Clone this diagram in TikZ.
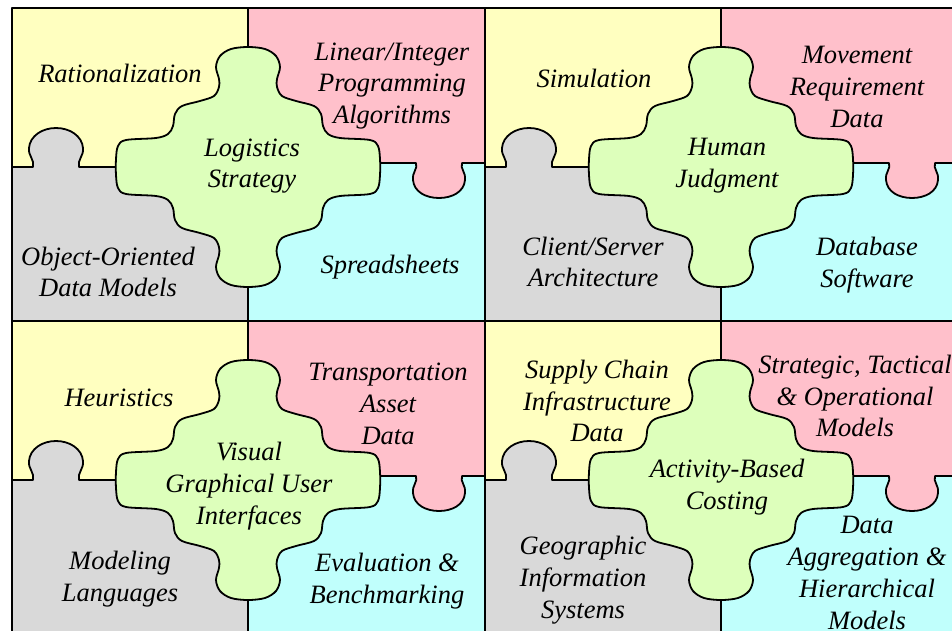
\documentclass[tikz,border=0pt]{standalone}
\usepackage{fontspec}
\setmainfont{Liberation Serif}
\definecolor{pzyellow}{HTML}{FFFFC0}
\definecolor{pzpink}{HTML}{FFC0CB}
\definecolor{pzcyan}{HTML}{C0FFFC}
\definecolor{pzgrey}{HTML}{D9D9D9}
\definecolor{pzgreen}{HTML}{DDFFBB}

\begin{document}
\begin{tikzpicture}[x=1pt,y=-1pt,line join=round,
    edge/.style={line width=1.8pt},
    hub/.style={edge,fill=pzgreen},
    lbl/.style={font=\fontsize{26.5}{31.8}\selectfont\itshape,align=center,inner sep=0pt}]
  \useasboundingbox[fill=white] (0,0) rectangle (952,631);
  \foreach \bx/\by in {12/8,485/8,12/321,485/321}{
    \begin{scope}[shift={(\bx,\by)}]
      \fill[pzyellow] (0,0) rectangle (236,159);
      \fill[pzpink] (236,0) rectangle (473,155);
      \fill[pzgrey] (0,159) rectangle (236,313);
      \fill[pzcyan] (236,155) rectangle (473,313);
      % tab of the grey piece
      \filldraw[edge,fill=pzgrey] (0,159) -- (21,159) .. controls (23,152) and (16,148) .. (17,140)
        .. controls (18,128) and (30,120) .. (44,120) .. controls (58,120) and (70,128) .. (71,140)
        .. controls (72,148) and (65,152) .. (67,159) -- (236,159);
      % tab of the pink piece
      \filldraw[edge,fill=pzpink] (236,155) -- (404,155) .. controls (406,161) and (400,164) .. (401,172)
        .. controls (402,184) and (414,190) .. (427,190) .. controls (440,190) and (452,184) .. (453,172)
        .. controls (454,164) and (448,161) .. (450,155) -- (473,155);
      \draw[line width=1.4pt] (236,0) -- (236,313);
      \draw[edge] (0,0) rectangle (473,313);
      \filldraw[hub,shift={(236,159)}] plot[smooth cycle,tension=0.55] coordinates {
        (0,-120) (17,-118) (28,-111) (32,-100) (29,-88) (29,-80) (34,-71) (48,-66) (66,-61) (73,-53)
        (75,-41) (80,-33) (92,-29) (122,-27) (130,-21) (132,-8)
        (132,8) (130,21) (122,27) (92,29) (80,33) (75,41) (73,53) (66,61) (48,66) (34,71)
        (29,80) (29,88) (32,100) (28,111) (17,118)
        (0,120) (-17,118) (-28,111) (-32,100) (-29,88) (-29,80) (-34,71) (-48,66) (-66,61) (-73,53)
        (-75,41) (-80,33) (-92,29) (-122,27) (-130,21) (-132,8)
        (-132,-8) (-130,-21) (-122,-27) (-92,-29) (-80,-33) (-75,-41) (-73,-53) (-66,-61) (-48,-66) (-34,-71)
        (-29,-80) (-29,-88) (-32,-100) (-28,-111) (-17,-118)};
    \end{scope}}
  % first puzzle
  \node[lbl] (rat) at (120,73) {Rationalization};
  \node[lbl] (lin) at (392,86) {Linear/Integer\\Programming\\Algorithms};
  \node[lbl] (log) at (252,166) {Logistics\\Strategy};
  \node[lbl] (oom) at (108,272) {Object-Oriented\\Data Models};
  \node[lbl] (spr) at (390,267) {Spreadsheets};
  % second puzzle
  \node[lbl] (sim) at (594,78) {Simulation};
  \node[lbl] (mov) at (857,87) {Movement\\Requirement\\Data};
  \node[lbl] (hum) at (727,166) {Human\\Judgment};
  \node[lbl] (cls) at (593,262) {Client/Server\\Architecture};
  \node[lbl] (dbs) at (867,265) {Database\\Software};
  % third puzzle
  \node[lbl] (heu) at (119,398) {Heuristics};
  \node[lbl] (tra) at (388,404) {Transportation\\Asset\\Data};
  \node[lbl] (vis) at (249,486) {Visual\\Graphical User\\Interfaces};
  \node[lbl] (mol) at (120,579) {Modeling\\Languages};
  \node[lbl] (eva) at (387,581) {Evaluation \&\\Benchmarking};
  % fourth puzzle
  \node[lbl] (sup) at (597,401) {Supply Chain\\Infrastructure\\Data};
  \node[lbl] (str) at (855,396) {Strategic, Tactical\\\& Operational\\Models};
  \node[lbl] (act) at (727,487) {Activity-Based\\Costing};
  \node[lbl] (geo) at (583,580) {Geographic\\Information\\Systems};
  \node[lbl] (dat) at (867,573) {Data\\Aggregation \&\\Hierarchical\\Models};
\end{tikzpicture}
\end{document}
